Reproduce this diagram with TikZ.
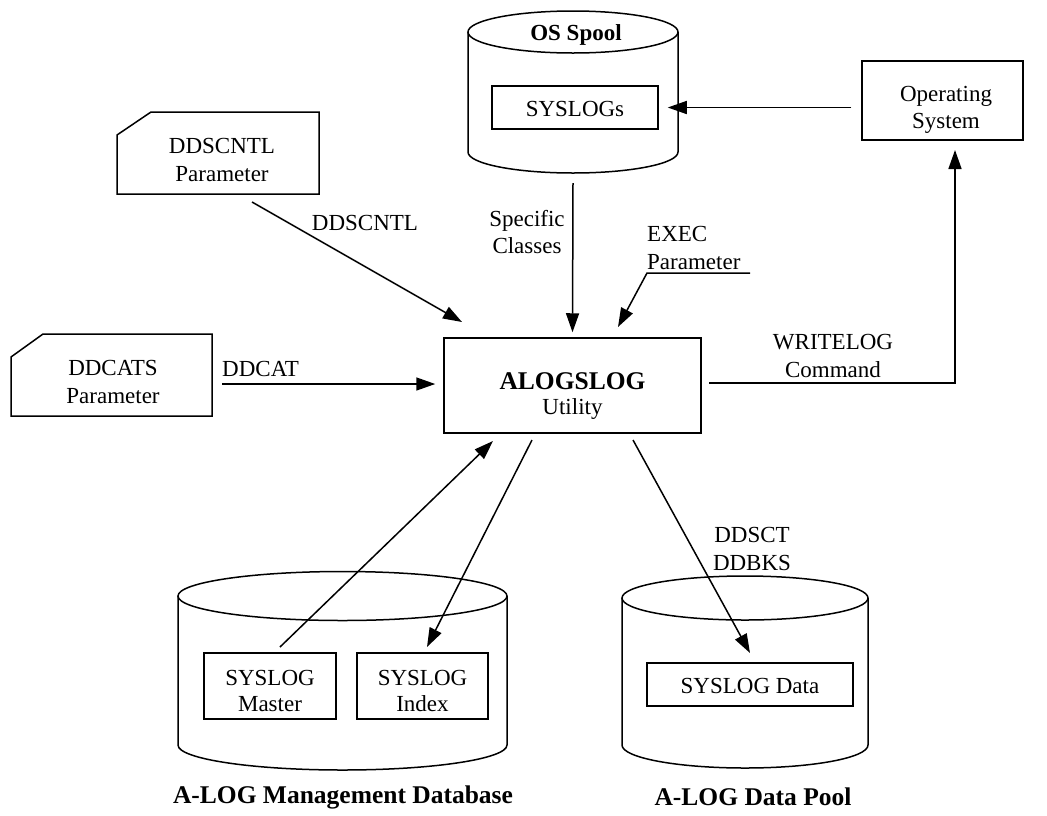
\documentclass[tikz,border=0pt]{standalone}
\usepackage{fontspec}
\setmainfont{Liberation Serif}
\usetikzlibrary{arrows.meta}
\begin{document}
\begin{tikzpicture}[x=1pt,y=-1pt,
  every node/.style={font=\fontsize{23}{27.5}\selectfont},
  line/.style={line width=1.5pt},
  arr/.style={line, -{Triangle[length=19pt,width=13pt]}},
  box/.style={draw, line width=1.5pt, rectangle, inner sep=0pt},
  lbl/.style={align=center, inner sep=0pt},
  title/.style={lbl, font=\fontsize{25.5}{30}\selectfont\bfseries},
]
\useasboundingbox (0,0) rectangle (1047,815);

% ---------- storage cylinders ----------
% OS Spool
\coordinate (spool) at (573,92);
\draw[line] (468,32) -- (468,152) arc[start angle=180,end angle=360,x radius=105pt,y radius=21pt] -- (678,32);
\draw[line] (573,32) ellipse [x radius=105pt,y radius=21pt];
\node[title,font=\fontsize{23}{27.5}\selectfont\bfseries] (spooltitle) at (576,35) {OS Spool};
\node[box,minimum width=166pt,minimum height=43pt] (syslogs) at (575,107.5) {};
\node[lbl] (syslogstext) at (575,109) {SYSLOGs};

% A-LOG management database
\coordinate (mgmt) at (342.5,670);
\draw[line] (178,596) -- (178,745) arc[start angle=180,end angle=360,x radius=164.5pt,y radius=25pt] -- (507,596);
\draw[line] (342.5,596) ellipse [x radius=164.5pt,y radius=24.5pt];
\node[box,minimum width=132pt,minimum height=66pt] (master) at (270,686) {};
\node[lbl] (mastertext) at (270,691) {SYSLOG\\[-2pt]Master};
\node[box,minimum width=131pt,minimum height=66pt] (index) at (422.5,686) {};
\node[lbl] (indextext) at (422.5,691) {SYSLOG\\[-2pt]Index};
\node[title] (mgmttitle) at (343,797) {A-LOG Management Database};

% A-LOG data pool
\coordinate (pool) at (745,670);
\draw[line] (622,598) -- (622,745) arc[start angle=180,end angle=360,x radius=123pt,y radius=23pt] -- (868,598);
\draw[line] (745,598) ellipse [x radius=123pt,y radius=22pt];
\node[box,minimum width=206pt,minimum height=43pt] (data) at (750,684.5) {};
\node[lbl] (datatext) at (750,686) {SYSLOG Data};
\node[title] (pooltitle) at (753,797) {A-LOG Data Pool};

% ---------- parameter cards ----------
\draw[line] (117,135) -- (151,112) -- (319,112) -- (319,194) -- (117,194) -- cycle;
\node[lbl] (ddscntl) at (222,160) {DDSCNTL\\Parameter};
\draw[line] (11,357) -- (43,334) -- (212,334) -- (212,416) -- (11,416) -- cycle;
\node[lbl] (ddcats) at (113,382) {DDCATS\\Parameter};

% ---------- process boxes ----------
\node[box,minimum width=257pt,minimum height=95pt] (alog) at (572.5,385.5) {};
\node[lbl] (alogtext) at (572.5,396)
  {{\fontsize{25.5}{30}\selectfont\bfseries ALOGSLOG}\\[-3pt]Utility};
\node[box,minimum width=161pt,minimum height=79pt] (os) at (942.5,100.5) {};
\node[lbl] (ostext) at (946,110) {Operating\\System};

% ---------- connectors ----------
\draw[arr] ([xshift=-10pt]os.west |- syslogs.east) -- ([xshift=9pt]syslogs.east);

\coordinate (spoolout) at (573,183);
\draw[arr] (spoolout) -- ([yshift=5pt]alog.north);
\node[lbl] (classes) at (527,232) {Specific\\Classes};

\coordinate (execend) at (750,273);
\coordinate (execbend) at (647,273);
\coordinate (exectip) at (618,327);
\draw[arr] (execend) -- (execbend) -- (exectip);
\node[lbl,align=left,anchor=west] (exec) at (647,248) {EXEC\\Parameter};

\coordinate (cntlout) at (252,202);
\coordinate (cntltip) at (462,322);
\draw[arr] (cntlout) -- (cntltip);
\node[lbl] (cntllabel) at (365,223) {DDSCNTL};

\coordinate (catout) at (222,384);
\draw[arr] (catout) -- ([xshift=-8pt]alog.west |- catout);
\node[lbl,anchor=west] (catlabel) at (222,369) {DDCAT};

\coordinate (wlout) at (709,383);
\coordinate (wltip) at (955,150);
\draw[arr] (wlout) -| (wltip);
\node[lbl] (wllabel) at (833,356) {WRITELOG\\Command};

\coordinate (masterout) at (280,647);
\coordinate (mastertip) at (493,441);
\draw[arr] (masterout) -- (mastertip);

\coordinate (indexout) at (532,440);
\coordinate (indextip) at (427,647);
\draw[arr] (indexout) -- (indextip);

\coordinate (dataout) at (633,440);
\coordinate (datatip) at (750,653);
\draw[arr] (dataout) -- (datatip);
\node[lbl] (datalabel) at (752,549) {DDSCT\\DDBKS};
\end{tikzpicture}
\end{document}
